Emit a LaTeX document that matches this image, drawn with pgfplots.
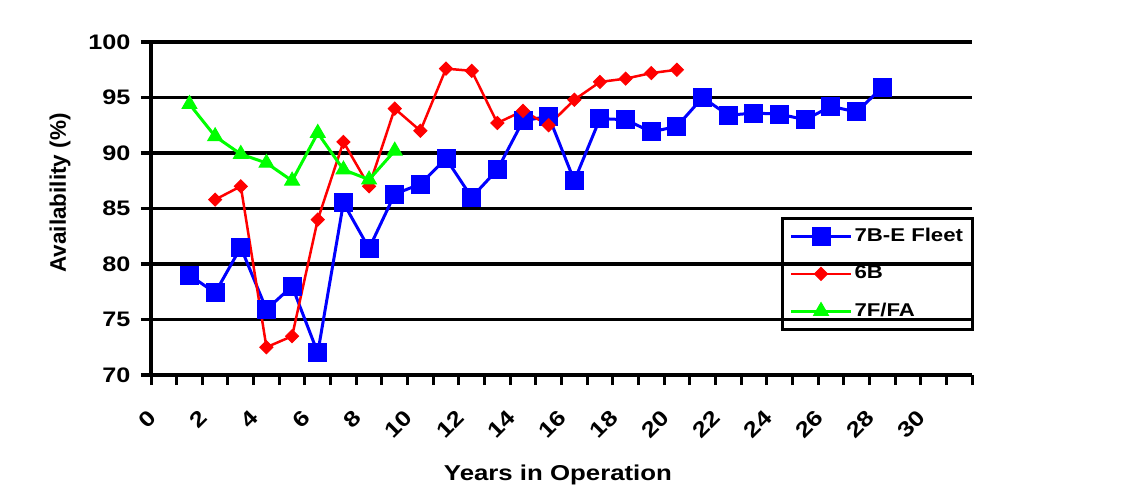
\documentclass[border=0pt]{standalone}
\usepackage{fontspec}
\setmainfont{Liberation Sans}[FakeStretch=1.2]
\newfontfamily\plainsans{Liberation Sans}
\usepackage{pgfplots}
\pgfplotsset{compat=1.18}
\definecolor{sblue}{RGB}{0,0,255}
\definecolor{sred}{RGB}{255,0,0}
\definecolor{sgreen}{RGB}{0,255,0}
\begin{document}
\begin{tikzpicture}
\useasboundingbox (0,0) rectangle (1121pt,496pt);
\begin{axis}[
  at={(151pt,121pt)}, anchor=south west,
  scale only axis, width=821pt, height=333pt,
  xmin=-0.5, xmax=31.5, ymin=70, ymax=100,
  axis x line*=bottom, axis y line*=left,
  axis line style={line width=3.5pt, black, -},
  ytick={70,75,...,100},
  ymajorgrids, major grid style={line width=3.5pt, black},
  xtick={0,2,...,30},
  major x tick style={draw=none},
  minor xtick={-0.5,0.5,...,31.5},
  minor tick length=10pt,
  minor x tick style={line width=3pt, black},
  major tick length=10pt,
  major y tick style={line width=3.5pt, black},
  tick align=outside,
  /pgf/number format/assume math mode=true,
  yticklabel style={font=\fontsize{21}{24}\selectfont\bfseries, anchor=east, xshift=-7pt},
  xticklabel style={font=\fontsize{21.5}{24}\selectfont\bfseries, xshift=-17pt, yshift=-19pt, rotate=45, anchor=north east},
  xlabel={Years in Operation},
  xlabel style={at={(rel axis cs:0.4957,-0.3183)}, anchor=base, font=\fontsize{21.5}{26}\selectfont\bfseries},
  ylabel={Availability (\%)},
  ylabel style={at={(rel axis cs:-0.1108,0.5465)}, anchor=center, font=\plainsans\fontsize{22.5}{26}\selectfont\bfseries},
  legend cell align=left,
  legend image code/.code={\draw[mark repeat=2,mark phase=2] plot coordinates {(0pt,0pt)(30pt,0pt)(60pt,0pt)};},
  legend style={at={(rel axis cs:0.7674,0.4745)}, anchor=north west, fill=none, draw=black, line width=3pt,
    font=\fontsize{18.5}{22}\selectfont\bfseries, inner xsep=7pt, inner ysep=8pt, row sep=17pt,
    nodes={inner sep=2pt, text depth=3pt}},
]
\addplot[sblue, line width=3pt, mark=square*, mark size=9pt, mark options={solid, fill=sblue, draw=sblue, line width=1pt}] coordinates {
(1,79.0)(2,77.4)(3,81.5)(4,75.9)(5,78.0)(6,72.0)(7,85.5)(8,81.4)(9,86.3)(10,87.2)
(11,89.5)(12,86.0)(13,88.5)(14,92.9)(15,93.3)(16,87.5)(17,93.1)(18,93.0)(19,91.9)(20,92.4)
(21,95.0)(22,93.4)(23,93.6)(24,93.5)(25,93.0)(26,94.2)(27,93.7)(28,95.9)};
\addlegendentry{7B-E Fleet\hspace{6pt}}
\addplot[sred, line width=2.5pt, mark=square*, mark size=4.6pt, mark options={solid, fill=sred, draw=sred, line width=1pt, rotate=45}] coordinates {
(2,85.8)(3,87.0)(4,72.5)(5,73.5)(6,84.0)(7,91.0)(8,87.0)(9,94.0)(10,92.0)(11,97.6)
(12,97.4)(13,92.7)(14,93.8)(15,92.5)(16,94.8)(17,96.4)(18,96.7)(19,97.2)(20,97.5)};
\addlegendentry{6B}
\addplot[sgreen, line width=3pt, mark=triangle*, mark size=8.5pt, mark options={solid, fill=sgreen, draw=sgreen, line width=1pt}] coordinates {
(1,94.4)(2,91.5)(3,89.9)(4,89.1)(5,87.5)(6,91.8)(7,88.5)(8,87.6)(9,90.2)};
\addlegendentry{7F/FA}
\end{axis}
\end{tikzpicture}
\end{document}
